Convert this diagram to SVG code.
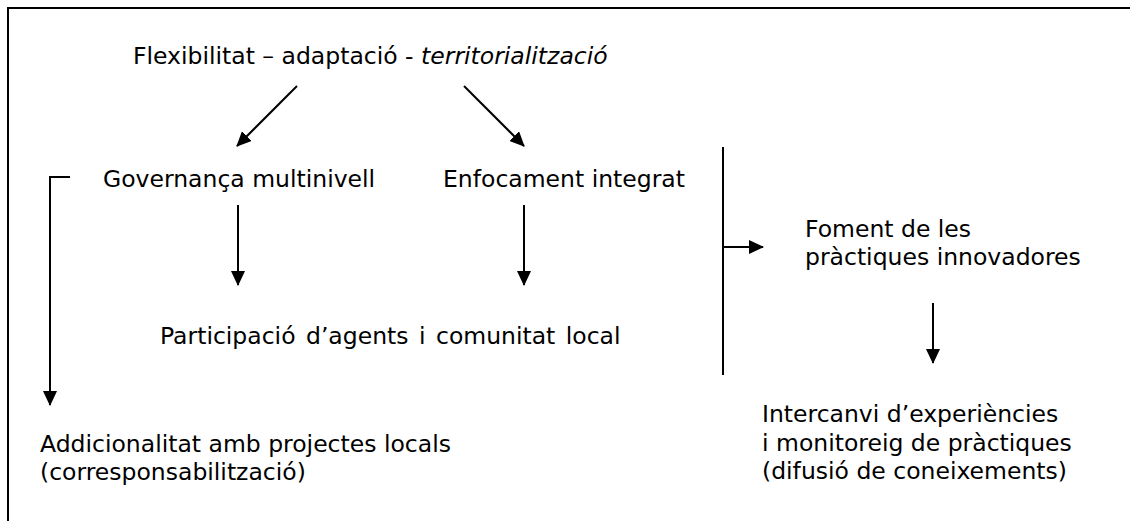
<svg xmlns="http://www.w3.org/2000/svg" width="1130" height="521" viewBox="0 0 1130 521">
  <style>
    text { font-family: "DejaVu Sans", Verdana, sans-serif; font-size: 23.5px; fill: #000; }
    .ln { stroke: #000; stroke-width: 2; fill: none; }
  </style>
  <defs>
    <marker id="ah" viewBox="0 0 15 14" refX="14" refY="7" markerWidth="15" markerHeight="14" markerUnits="userSpaceOnUse" orient="auto">
      <path d="M0,0 L15,7 L0,14 z" fill="#000"/>
    </marker>
  </defs>
  <rect width="1130" height="521" fill="#fff"/>
  <!-- frame: top and left edges -->
  <path class="ln" d="M8,521 V8 H1130"/>

  <g id="connectors">
    <line class="ln" x1="297" y1="86" x2="237" y2="146" marker-end="url(#ah)"/>
    <line class="ln" x1="464" y1="86" x2="524" y2="146" marker-end="url(#ah)"/>
    <line class="ln" x1="238" y1="205" x2="238" y2="285" marker-end="url(#ah)"/>
    <line class="ln" x1="524" y1="205" x2="524" y2="285" marker-end="url(#ah)"/>
    <path class="ln" d="M70,177 H50 V405" marker-end="url(#ah)"/>
    <line class="ln" x1="723" y1="147" x2="723" y2="375"/>
    <line class="ln" x1="723" y1="247" x2="763" y2="247" marker-end="url(#ah)"/>
    <line class="ln" x1="933" y1="303" x2="933" y2="363" marker-end="url(#ah)"/>
  </g>

  <g id="title"><text x="133" y="64">Flexibilitat – adaptació - <tspan font-style="italic">territorialització</tspan></text></g>
  <g id="governanca"><text x="103" y="187">Governança multinivell</text></g>
  <g id="enfocament"><text x="443" y="187">Enfocament integrat</text></g>
  <g id="participacio"><text x="160" y="344" word-spacing="3">Participació d’agents i comunitat local</text></g>
  <g id="foment">
    <text x="805" y="237">Foment de les</text>
    <text x="805" y="265">pràctiques innovadores</text>
  </g>
  <g id="intercanvi">
    <text x="762" y="422">Intercanvi d’experiències</text>
    <text x="762" y="451">i monitoreig de pràctiques</text>
    <text x="762" y="479">(difusió de coneixements)</text>
  </g>
  <g id="addicionalitat">
    <text x="40" y="452">Addicionalitat amb projectes locals</text>
    <text x="40" y="480">(corresponsabilització)</text>
  </g>
</svg>
